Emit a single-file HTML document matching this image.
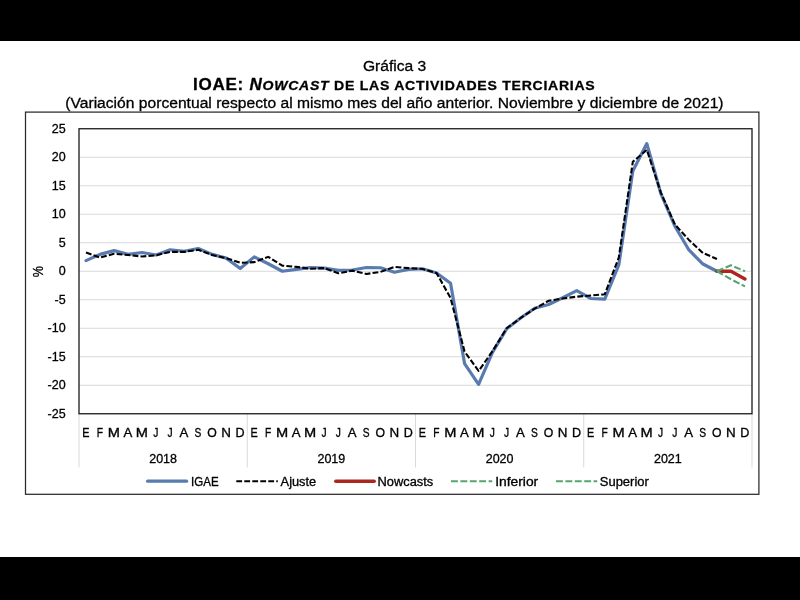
<!DOCTYPE html>
<html lang="es">
<head>
<meta charset="utf-8">
<title>Gráfica 3 - IOAE: Nowcast de las actividades terciarias</title>
<style>
html,body{margin:0;padding:0;background:#fff;}
body{width:800px;height:600px;overflow:hidden;font-family:"Liberation Sans",sans-serif;}
svg{display:block;will-change:transform;}
text{font-family:"Liberation Sans",sans-serif;fill:#000;stroke:#000;stroke-width:0.3px;}
.ax{font-size:12px;}
.t1{font-size:15px;}
.t2{font-size:16.36px;font-weight:bold;letter-spacing:0.7px;}
.t2 .it{font-style:italic;}
.t2 .sc{font-size:13.5px;}
.t3{font-size:15px;}
</style>
</head>
<body>
<svg width="800" height="600" viewBox="0 0 800 600">
<rect x="0" y="0" width="800" height="600" fill="#ffffff"/>
<rect x="0" y="0" width="800" height="41" fill="#000"/>
<rect x="0" y="557" width="800" height="43" fill="#000"/>
<rect x="25.5" y="112.1" width="733.4" height="382.2" fill="none" stroke="#2a2a2a" stroke-width="1.25"/>
<line x1="79.0" x2="752.0" y1="385.25" y2="385.25" stroke="#d9d9d9" stroke-width="1"/>
<line x1="79.0" x2="752.0" y1="356.75" y2="356.75" stroke="#d9d9d9" stroke-width="1"/>
<line x1="79.0" x2="752.0" y1="328.25" y2="328.25" stroke="#d9d9d9" stroke-width="1"/>
<line x1="79.0" x2="752.0" y1="299.75" y2="299.75" stroke="#d9d9d9" stroke-width="1"/>
<line x1="79.0" x2="752.0" y1="271.25" y2="271.25" stroke="#d9d9d9" stroke-width="1"/>
<line x1="79.0" x2="752.0" y1="242.75" y2="242.75" stroke="#d9d9d9" stroke-width="1"/>
<line x1="79.0" x2="752.0" y1="214.25" y2="214.25" stroke="#d9d9d9" stroke-width="1"/>
<line x1="79.0" x2="752.0" y1="185.75" y2="185.75" stroke="#d9d9d9" stroke-width="1"/>
<line x1="79.0" x2="752.0" y1="157.25" y2="157.25" stroke="#d9d9d9" stroke-width="1"/>
<line x1="79.00" x2="79.00" y1="414" y2="467.5" stroke="#d9d9d9" stroke-width="1"/>
<line x1="247.25" x2="247.25" y1="414" y2="467.5" stroke="#d9d9d9" stroke-width="1"/>
<line x1="415.50" x2="415.50" y1="414" y2="467.5" stroke="#d9d9d9" stroke-width="1"/>
<line x1="583.75" x2="583.75" y1="414" y2="467.5" stroke="#d9d9d9" stroke-width="1"/>
<line x1="752.00" x2="752.00" y1="414" y2="467.5" stroke="#d9d9d9" stroke-width="1"/>
<polyline points="86.01,260.59 100.03,254.38 114.05,250.62 128.07,254.38 142.09,252.50 156.11,255.00 170.14,249.76 184.16,251.30 198.18,248.51 212.20,254.38 226.22,258.14 240.24,268.51 254.26,256.89 268.28,263.73 282.30,271.25 296.32,269.37 310.34,267.49 324.36,268.12 338.39,270.39 352.41,270.00 366.43,267.49 380.45,267.77 394.47,272.28 408.49,269.37 422.51,268.74 436.53,272.96 450.55,283.22 464.57,363.59 478.59,384.39 492.61,352.19 506.64,328.82 520.66,317.99 534.68,308.30 548.70,304.48 562.72,297.75 576.74,290.69 590.76,298.50 604.78,299.18 618.80,264.98 632.82,170.93 646.84,143.57 660.86,193.73 674.89,226.22 688.91,249.99 702.93,264.01 716.95,271.25" fill="none" stroke="#5a7bb0" stroke-width="3.2" stroke-linejoin="round" stroke-linecap="round"/>
<polyline points="86.01,252.50 100.03,257.51 114.05,253.75 128.07,255.00 142.09,256.49 156.11,255.29 170.14,251.87 184.16,251.87 198.18,249.76 212.20,255.00 226.22,258.14 240.24,262.76 254.26,262.13 268.28,256.89 282.30,265.61 296.32,266.86 310.34,268.74 324.36,268.12 338.39,273.30 352.41,270.62 366.43,273.99 380.45,271.88 394.47,266.86 408.49,268.12 422.51,268.97 436.53,272.96 450.55,298.04 464.57,351.62 478.59,371.00 492.61,351.05 506.64,328.25 520.66,317.99 534.68,308.70 548.70,300.78 562.72,298.50 576.74,296.67 590.76,295.48 604.78,294.28 618.80,257.57 632.82,161.81 646.84,149.84 660.86,192.59 674.89,224.51 688.91,239.90 702.93,253.01 716.95,258.94" fill="none" stroke="#000" stroke-width="2.1" stroke-dasharray="5.8 2.2" stroke-linejoin="round"/>
<polyline points="716.95,271.25 730.97,271.25 744.99,278.94" fill="none" stroke="#ab261e" stroke-width="3.4" stroke-linejoin="round" stroke-linecap="round"/>
<polyline points="716.95,271.25 730.97,265.32 744.99,271.25" fill="none" stroke="#55a56f" stroke-width="2.1" stroke-dasharray="6.9 2.5" stroke-linejoin="round"/>
<polyline points="716.95,271.25 730.97,279.23 744.99,286.36" fill="none" stroke="#55a56f" stroke-width="2.1" stroke-dasharray="6.9 2.5" stroke-linejoin="round"/>
<rect x="79.0" y="128.75" width="673.0" height="285" fill="none" stroke="#1a1a1a" stroke-width="1.3"/>
<text x="65.7" y="417.75" text-anchor="end" class="ax" style="font-size:12.5px">-25</text>
<text x="65.7" y="389.25" text-anchor="end" class="ax" style="font-size:12.5px">-20</text>
<text x="65.7" y="360.75" text-anchor="end" class="ax" style="font-size:12.5px">-15</text>
<text x="65.7" y="332.25" text-anchor="end" class="ax" style="font-size:12.5px">-10</text>
<text x="65.7" y="303.75" text-anchor="end" class="ax" style="font-size:12.5px">-5</text>
<text x="65.7" y="275.25" text-anchor="end" class="ax" style="font-size:12.5px">0</text>
<text x="65.7" y="246.75" text-anchor="end" class="ax" style="font-size:12.5px">5</text>
<text x="65.7" y="218.25" text-anchor="end" class="ax" style="font-size:12.5px">10</text>
<text x="65.7" y="189.75" text-anchor="end" class="ax" style="font-size:12.5px">15</text>
<text x="65.7" y="161.25" text-anchor="end" class="ax" style="font-size:12.5px">20</text>
<text x="65.7" y="132.75" text-anchor="end" class="ax" style="font-size:12.5px">25</text>
<text transform="translate(43.1,271.7) rotate(-90) scale(0.87,1.05)" text-anchor="middle" class="ax" style="font-size:14.5px">%</text>
<text transform="translate(85.81,437) scale(0.9,1)" text-anchor="middle" class="ax">E</text>
<text transform="translate(99.83,437) scale(0.85,1)" text-anchor="middle" class="ax">F</text>
<text transform="translate(113.85,437) scale(1.22,1)" text-anchor="middle" class="ax">M</text>
<text transform="translate(127.87,437) scale(1.1,1)" text-anchor="middle" class="ax">A</text>
<text transform="translate(141.89,437) scale(1.22,1)" text-anchor="middle" class="ax">M</text>
<text transform="translate(155.91,437) scale(0.85,1)" text-anchor="middle" class="ax">J</text>
<text transform="translate(169.94,437) scale(0.85,1)" text-anchor="middle" class="ax">J</text>
<text transform="translate(183.96,437) scale(1.1,1)" text-anchor="middle" class="ax">A</text>
<text transform="translate(197.98,437) scale(0.85,1)" text-anchor="middle" class="ax">S</text>
<text transform="translate(212.00,437) scale(1.02,1)" text-anchor="middle" class="ax">O</text>
<text transform="translate(226.02,437) scale(1.12,1)" text-anchor="middle" class="ax">N</text>
<text transform="translate(240.04,437) scale(1.05,1)" text-anchor="middle" class="ax">D</text>
<text transform="translate(254.06,437) scale(0.9,1)" text-anchor="middle" class="ax">E</text>
<text transform="translate(268.08,437) scale(0.85,1)" text-anchor="middle" class="ax">F</text>
<text transform="translate(282.10,437) scale(1.22,1)" text-anchor="middle" class="ax">M</text>
<text transform="translate(296.12,437) scale(1.1,1)" text-anchor="middle" class="ax">A</text>
<text transform="translate(310.14,437) scale(1.22,1)" text-anchor="middle" class="ax">M</text>
<text transform="translate(324.16,437) scale(0.85,1)" text-anchor="middle" class="ax">J</text>
<text transform="translate(338.19,437) scale(0.85,1)" text-anchor="middle" class="ax">J</text>
<text transform="translate(352.21,437) scale(1.1,1)" text-anchor="middle" class="ax">A</text>
<text transform="translate(366.23,437) scale(0.85,1)" text-anchor="middle" class="ax">S</text>
<text transform="translate(380.25,437) scale(1.02,1)" text-anchor="middle" class="ax">O</text>
<text transform="translate(394.27,437) scale(1.12,1)" text-anchor="middle" class="ax">N</text>
<text transform="translate(408.29,437) scale(1.05,1)" text-anchor="middle" class="ax">D</text>
<text transform="translate(422.31,437) scale(0.9,1)" text-anchor="middle" class="ax">E</text>
<text transform="translate(436.33,437) scale(0.85,1)" text-anchor="middle" class="ax">F</text>
<text transform="translate(450.35,437) scale(1.22,1)" text-anchor="middle" class="ax">M</text>
<text transform="translate(464.37,437) scale(1.1,1)" text-anchor="middle" class="ax">A</text>
<text transform="translate(478.39,437) scale(1.22,1)" text-anchor="middle" class="ax">M</text>
<text transform="translate(492.41,437) scale(0.85,1)" text-anchor="middle" class="ax">J</text>
<text transform="translate(506.44,437) scale(0.85,1)" text-anchor="middle" class="ax">J</text>
<text transform="translate(520.46,437) scale(1.1,1)" text-anchor="middle" class="ax">A</text>
<text transform="translate(534.48,437) scale(0.85,1)" text-anchor="middle" class="ax">S</text>
<text transform="translate(548.50,437) scale(1.02,1)" text-anchor="middle" class="ax">O</text>
<text transform="translate(562.52,437) scale(1.12,1)" text-anchor="middle" class="ax">N</text>
<text transform="translate(576.54,437) scale(1.05,1)" text-anchor="middle" class="ax">D</text>
<text transform="translate(590.56,437) scale(0.9,1)" text-anchor="middle" class="ax">E</text>
<text transform="translate(604.58,437) scale(0.85,1)" text-anchor="middle" class="ax">F</text>
<text transform="translate(618.60,437) scale(1.22,1)" text-anchor="middle" class="ax">M</text>
<text transform="translate(632.62,437) scale(1.1,1)" text-anchor="middle" class="ax">A</text>
<text transform="translate(646.64,437) scale(1.22,1)" text-anchor="middle" class="ax">M</text>
<text transform="translate(660.66,437) scale(0.85,1)" text-anchor="middle" class="ax">J</text>
<text transform="translate(674.69,437) scale(0.85,1)" text-anchor="middle" class="ax">J</text>
<text transform="translate(688.71,437) scale(1.1,1)" text-anchor="middle" class="ax">A</text>
<text transform="translate(702.73,437) scale(0.85,1)" text-anchor="middle" class="ax">S</text>
<text transform="translate(716.75,437) scale(1.02,1)" text-anchor="middle" class="ax">O</text>
<text transform="translate(730.77,437) scale(1.12,1)" text-anchor="middle" class="ax">N</text>
<text transform="translate(744.79,437) scale(1.05,1)" text-anchor="middle" class="ax">D</text>
<text x="163.12" y="463.4" text-anchor="middle" class="ax" style="font-size:12.5px">2018</text>
<text x="331.38" y="463.4" text-anchor="middle" class="ax" style="font-size:12.5px">2019</text>
<text x="499.62" y="463.4" text-anchor="middle" class="ax" style="font-size:12.5px">2020</text>
<text x="667.88" y="463.4" text-anchor="middle" class="ax" style="font-size:12.5px">2021</text>
<line x1="147.6" x2="186.6" y1="481.2" y2="481.2" stroke="#5a7bb0" stroke-width="3.2" stroke-linecap="round"/>
<text x="191.0" y="485.59999999999997" class="ax" textLength="27.6" lengthAdjust="spacingAndGlyphs">IGAE</text>
<line x1="236.3" x2="277.8" y1="481.2" y2="481.2" stroke="#000" stroke-width="2.1" stroke-dasharray="5.8 2.2"/>
<text x="280.6" y="485.59999999999997" class="ax" textLength="35.6" lengthAdjust="spacingAndGlyphs">Ajuste</text>
<line x1="335.8" x2="374.2" y1="481.2" y2="481.2" stroke="#ab261e" stroke-width="3.4" stroke-linecap="round"/>
<text x="377.6" y="485.59999999999997" class="ax" textLength="55.6" lengthAdjust="spacingAndGlyphs">Nowcasts</text>
<line x1="451" x2="492.2" y1="481.2" y2="481.2" stroke="#55a56f" stroke-width="2.1" stroke-dasharray="6.9 2.5"/>
<text x="495.2" y="485.59999999999997" class="ax" textLength="43.0" lengthAdjust="spacingAndGlyphs">Inferior</text>
<line x1="556" x2="597.2" y1="481.2" y2="481.2" stroke="#55a56f" stroke-width="2.1" stroke-dasharray="6.9 2.5"/>
<text x="599.8" y="485.59999999999997" class="ax" textLength="49.0" lengthAdjust="spacingAndGlyphs">Superior</text>
<text transform="translate(394.6,70.7) scale(1.043,1)" text-anchor="middle" class="t1">Gráfica 3</text>
<text transform="translate(193,90.3) scale(1.043,1)" class="t2">IOAE: <tspan class="it">N<tspan class="sc">OWCAST</tspan></tspan><tspan class="sc"> DE LAS ACTIVIDADES TERCIARIAS</tspan></text>
<text transform="translate(394.4,108.05) scale(1.043,1)" text-anchor="middle" class="t3">(Variación porcentual respecto al mismo mes del año anterior. Noviembre y diciembre de 2021)</text>
</svg>
</body>
</html>
